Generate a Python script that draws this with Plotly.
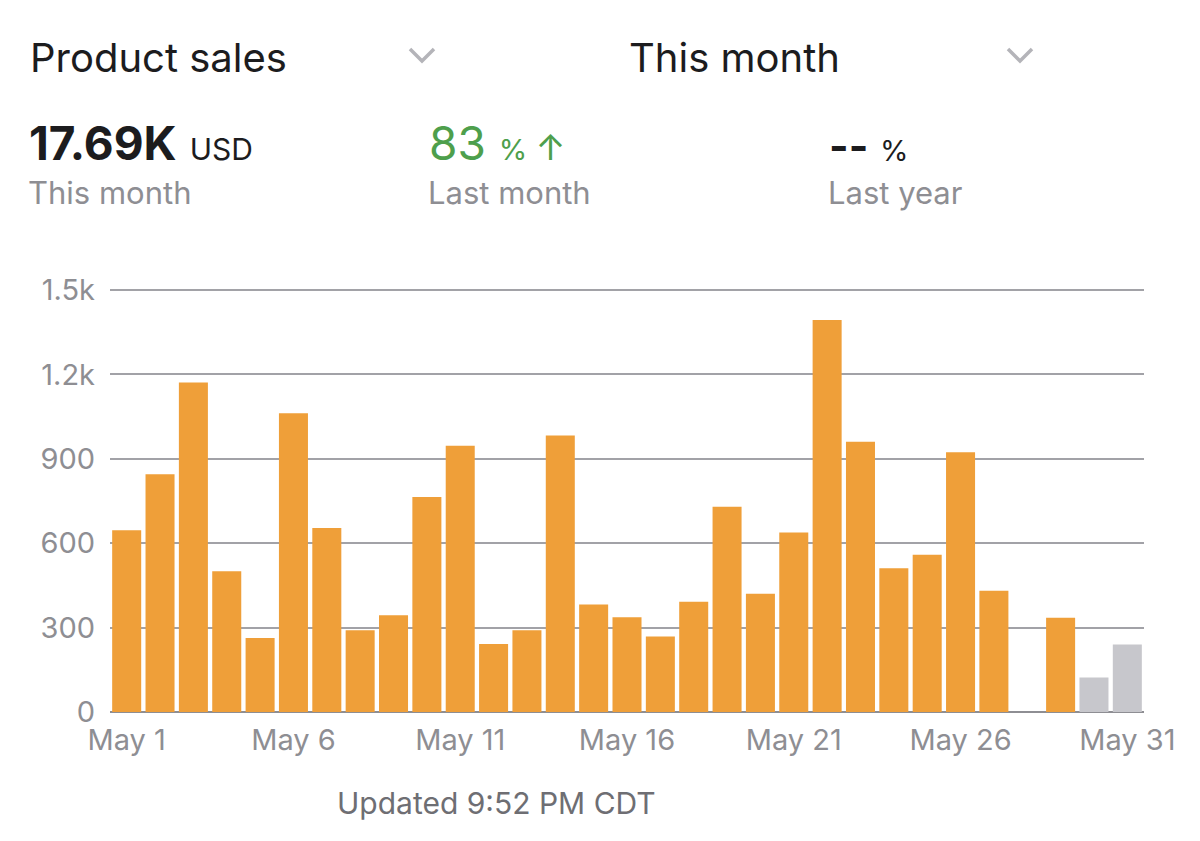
import plotly.graph_objects as go

# -- data -----------------------------------------------------------------
days = list(range(1, 32))
sales = [646, 845, 1171, 500, 263, 1062, 654, 291, 344, 764,
         946, 242, 291, 983, 382, 337, 268, 392, 730, 420,
         638, 1393, 961, 511, 559, 923, 431, None, 335, 123,
         240]
pending_days = [30, 31]  # greyed-out bars at the end of the month

tick_days = [1, 6, 11, 16, 21, 26, 31]
tick_text = ["May 1", "May 6", "May 11", "May 16", "May 21", "May 26", "May 31"]
y_ticks = [0, 300, 600, 900, 1200, 1500]
y_text = ["0", "300", "600", "900", "1.2k", "1.5k"]

# -- style -------------------------------------------------------------------
ORANGE = "#EF9F39"
GREY_BAR = "#C7C7CC"
GREEN = "#4E9F4C"
DARK = "#1C1C1E"
MUTED = "#8E8E93"
FONT = "Inter, Roboto, Arial, sans-serif"

# the page body adds an 8px margin, so work in page pixels and shift back
OFF = 8
W, H = 1184, 825
PLOT_TOP, ZERO_Y, TOP_Y = 284, 712, 290   # page px: plot top, 0 line, 1.5k line
L, R, T = 110 - OFF, 56 - OFF, PLOT_TOP - OFF
B = H - (ZERO_Y - OFF)
PW, PH = W - L - R, H - T - B
Y_MAX = 1500 * (ZERO_Y - PLOT_TOP) / (ZERO_Y - TOP_Y)  # keeps top gridline inside


def px(x):
    return (x - OFF - L) / PW


def py(y):
    return (H - B - (y - OFF)) / PH


colors = [GREY_BAR if d in pending_days else ORANGE for d in days]

fig = go.Figure(go.Bar(
    x=days, y=sales, marker_color=colors, marker_line_width=0,
    hoverinfo="x+y",
))

fig.update_layout(
    width=W, height=H,
    margin=dict(l=L, r=R, t=T, b=B),
    paper_bgcolor="white", plot_bgcolor="white",
    font=dict(family=FONT, color=MUTED, size=24),
    bargap=0.13,
    showlegend=False,
)
fig.update_xaxes(
    range=[0.5, 31.5], tickvals=tick_days, ticktext=tick_text,
    showgrid=False, zeroline=False, showline=False,
    ticks="", ticklabelstandoff=8,
    tickfont=dict(size=29, color=MUTED),
)
fig.update_yaxes(
    range=[0, Y_MAX], tickvals=y_ticks, ticktext=y_text,
    showgrid=True, gridcolor="#A2A2A7", gridwidth=1.5,
    zeroline=True, zerolinecolor="#8E8E93", zerolinewidth=2,
    showline=False, ticks="", ticklabelstandoff=14,
    tickfont=dict(size=29, color=MUTED),
)

annotations = [
    # header dropdowns
    dict(x=px(28), y=py(57), text="Product sales",
         font=dict(size=40, color=DARK)),
    dict(x=px(627), y=py(57), text="This month",
         font=dict(size=40, color=DARK)),
    # headline numbers
    dict(x=px(27), y=py(143),
         text="<b>17.69K</b> <span style='font-size:30px'>USD</span>",
         font=dict(size=46, color=DARK)),
    dict(x=px(427), y=py(143),
         text="83 <span style='font-size:29px'>% </span>"
              "<span style='font-size:36px'>↑</span>",
         font=dict(size=46, color=GREEN)),
    dict(x=px(827), y=py(146),
         text="<b>--</b> <span style='font-size:29px'>%</span>",
         font=dict(size=42, color=DARK)),
    dict(x=px(26), y=py(192), text="This month",
         font=dict(size=31, color=MUTED)),
    dict(x=px(426), y=py(192), text="Last month",
         font=dict(size=31, color=MUTED)),
    dict(x=px(826), y=py(192), text="Last year",
         font=dict(size=31, color=MUTED)),
    # footer
    dict(x=px(496), y=py(803), text="Updated 9:52 PM CDT", xanchor="center",
         font=dict(size=30, color="#6E6E73")),
]
for a in annotations:
    a.setdefault("xanchor", "left")
    fig.add_annotation(xref="paper", yref="paper", yanchor="middle",
                       showarrow=False, **a)

# dropdown chevrons
for cx in (422, 1020):
    fig.add_shape(
        type="path", xref="paper", yref="paper",
        path=f"M {px(cx - 12)} {py(49)} L {px(cx)} {py(61)} L {px(cx + 12)} {py(49)}",
        line=dict(color="#B4B4B9", width=3.5),
    )

fig.write_html("out.html")
